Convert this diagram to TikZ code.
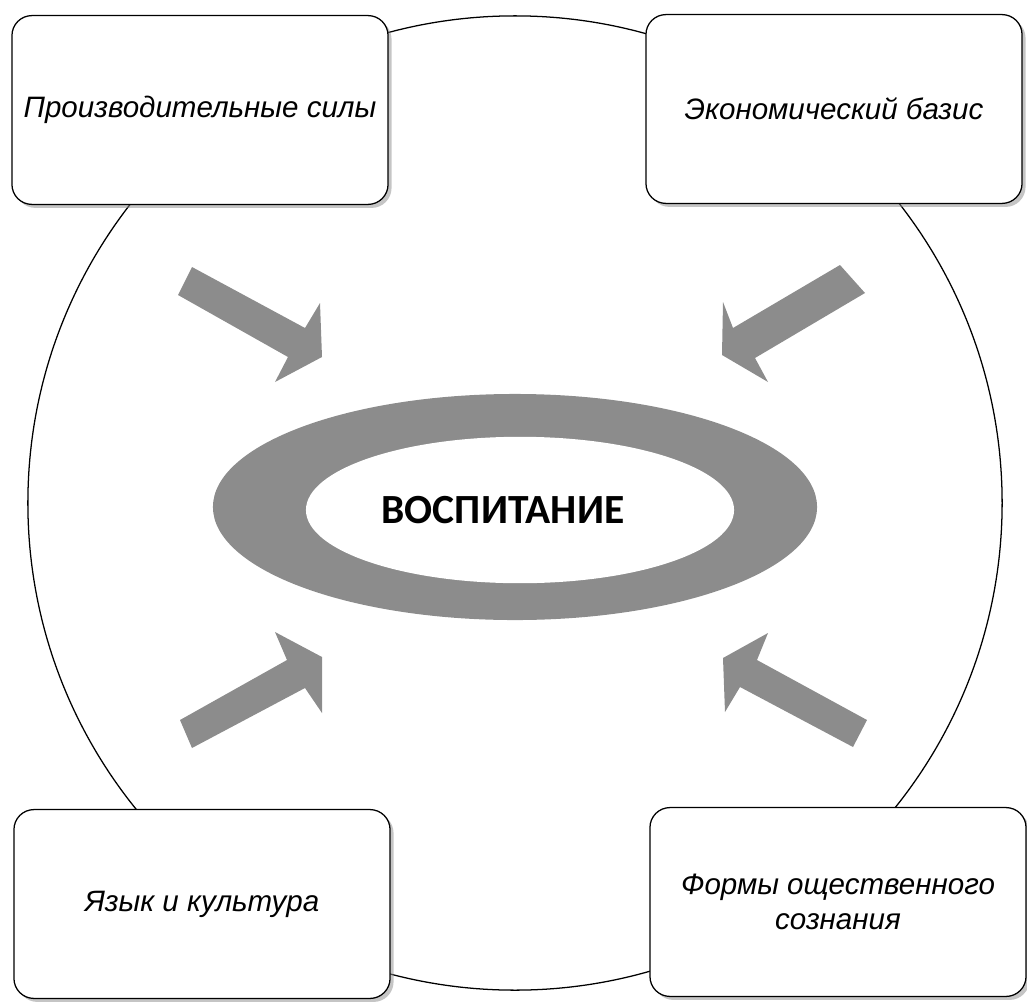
\documentclass[tikz,border=0pt]{standalone}
\usepackage{fontspec}
\setmainfont{Liberation Sans}
\newfontfamily\carlito{Carlito}
\usetikzlibrary{shadows}

\definecolor{ringgray}{RGB}{140,140,140}

\begin{document}
\begin{tikzpicture}[x=0.025cm, y=-0.025cm, line cap=round, line join=round]

% -----------------------
% Parameters
% -----------------------
\def\R{12.175cm}    % radius of the big circle
\def\rx{7.55cm}     % outer ring, x radius
\def\ry{2.825cm}    % outer ring, y radius

\tikzset{
  factor/.style={draw=black, line width=0.9pt, fill=white,
    rounded corners=0.5cm, minimum width=9.4cm, minimum height=4.72cm,
    align=center, font=\itshape\fontsize{21}{24.5}\selectfont,
    drop shadow={shadow xshift=2.5pt, shadow yshift=-2.5pt, fill=black!45}},
  pointer/.style={fill=ringgray}
}

\useasboundingbox (0,0) rectangle (1027,1001);

% -----------------------
% Big circle
% -----------------------
\draw[line width=0.9pt] (515,503) circle (\R);

% -----------------------
% Central ring
% -----------------------
\fill[ringgray] (515,507) ellipse [x radius=\rx, y radius=\ry];
\fill[white] (520,510) ellipse [x radius=5.35cm, y radius=1.83cm];
\node[font=\carlito\bfseries\fontsize{29.5}{35}\selectfont] (vosp) at (503,510) {ВОСПИТАНИЕ};

% -----------------------
% Block arrows
% -----------------------
\fill[pointer] (192,267) -- (305,328) -- (320,303) -- (322,357) -- (275,382) -- (288,357) -- (178,295) -- cycle;
\fill[pointer] (840,265) -- (733,328) -- (723,302) -- (722,355) -- (768,382) -- (755,358) -- (865,293) -- cycle;
\fill[pointer] (180,720) -- (287,660) -- (275,632) -- (322,657) -- (322,713) -- (305,688) -- (192,748) -- cycle;
\fill[pointer] (867,720) -- (757,660) -- (768,633) -- (723,658) -- (725,712) -- (740,687) -- (853,747) -- cycle;

% -----------------------
% Factor boxes
% -----------------------
\node[factor] (prod) at (200,110) {Производительные силы};
\node[factor] (econ) at (834,109) {Экономический базис};
\node[factor] (lang) at (202,904) {Язык и культура};
\node[factor] (forms) at (838,902) {Формы ощественного\\сознания};

\end{tikzpicture}
\end{document}
